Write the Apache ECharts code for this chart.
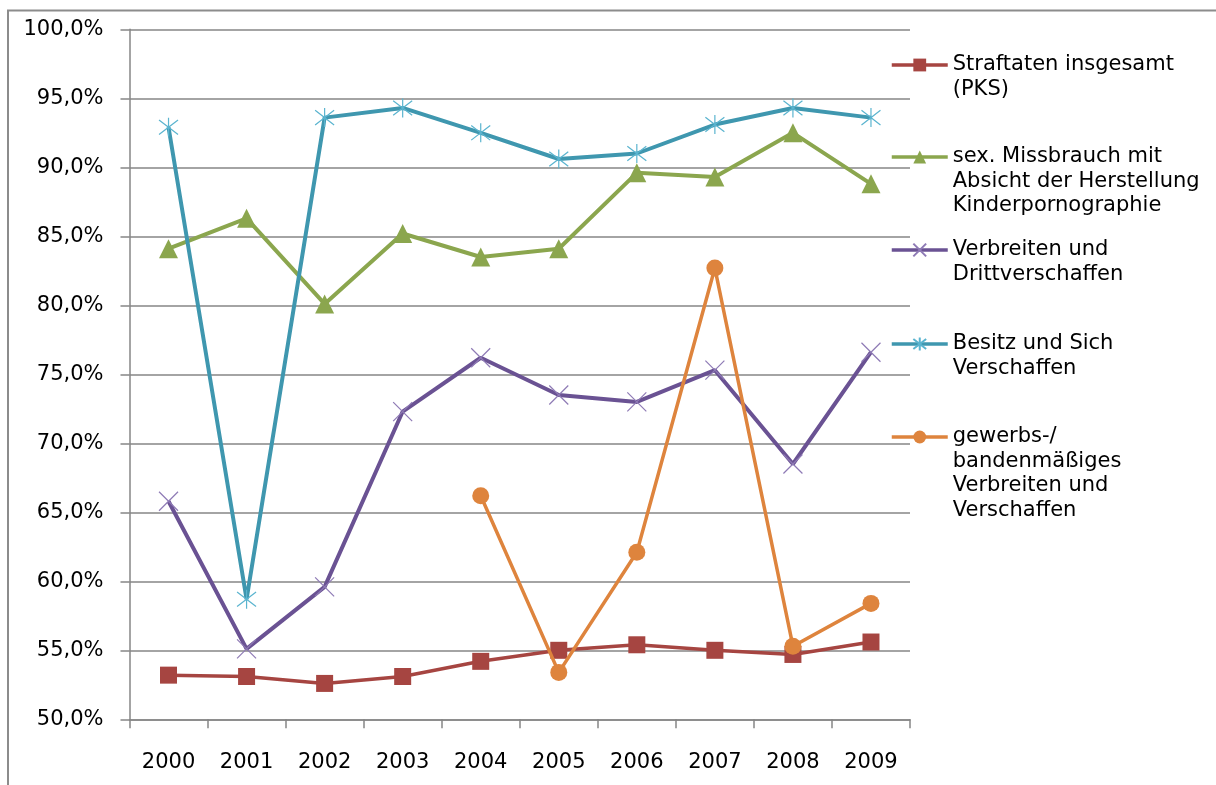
<!DOCTYPE html>
<html>
<head>
<meta charset="utf-8">
<script src="https://cdn.jsdelivr.net/npm/echarts@6/dist/echarts.min.js"></script>
<style>
html,body{margin:0;padding:0;background:#fff;}
#chart{width:1216px;height:785px;}
</style>
</head>
<body>
<div id="chart"></div>
<script>
const years = ['2000','2001','2002','2003','2004','2005','2006','2007','2008','2009'];
const straftaten = [53.2, 53.1, 52.6, 53.1, 54.2, 55.0, 55.4, 55.0, 54.7, 55.6];
const missbrauch = [84.1, 86.3, 80.1, 85.2, 83.5, 84.1, 89.6, 89.3, 92.5, 88.8];
const verbreiten = [65.8, 55.1, 59.6, 72.3, 76.2, 73.5, 73.0, 75.3, 68.5, 76.6];
const besitz = [92.9, 58.7, 93.6, 94.3, 92.5, 90.6, 91.0, 93.1, 94.3, 93.6];
const gewerbs = [null, null, null, null, 66.2, 53.4, 62.1, 82.7, 55.3, 58.4];
const seriesNames = [
  'Straftaten insgesamt\n(PKS)',
  'sex. Missbrauch mit\nAbsicht der Herstellung\nKinderpornographie',
  'Verbreiten und\nDrittverschaffen',
  'Besitz und Sich\nVerschaffen',
  'gewerbs-/\nbandenmäßiges\nVerbreiten und\nVerschaffen'
];
const yMin = 50, yMax = 100, yStep = 5;

const FONT = 'DejaVu Sans';
const LH = 24.5;
const colors = ['#A64541', '#8BA64E', '#6A5293', '#3F97AF', '#DE843D'];
const markerBorder = ['#A64541', '#8BA64E', '#8E7AB5', '#5AB4CF', '#DE843D'];
const symbols = ['rect', 'triangle', 'path://M0,0L10,10M10,0L0,10', 'path://M0,0L10,10M10,0L0,10M5,-1.5L5,11.5', 'circle'];
const symbolSizes = [17, 19, 19, 19, 17];
const lineWidths = [3.5, 4, 4, 4, 3.5];
const dataSets = [straftaten, missbrauch, verbreiten, besitz, gewerbs];
const legendCenters = [65, 157, 250, 344, 437];

const series = dataSets.map((d, i) => ({
  name: seriesNames[i],
  type: 'line',
  data: d,
  symbol: symbols[i],
  symbolSize: symbolSizes[i],
  showAllSymbol: true,
  lineStyle: { color: colors[i], width: lineWidths[i] },
  itemStyle: {
    color: (i === 2 || i === 3) ? 'rgba(0,0,0,0)' : colors[i],
    borderColor: markerBorder[i],
    borderWidth: (i === 2 || i === 3) ? 1.2 : 0
  },
  emphasis: { disabled: true },
  z: 2 + i
}));

const legends = seriesNames.map((name, i) => {
  const n = name.split('\n').length;
  return {
    left: 890,
    top: legendCenters[i] - (2 * n - 1) * LH / 2,
    padding: 0,
    itemWidth: 56,
    itemHeight: 16,
    itemGap: 0,
    selectedMode: false,
    lineStyle: { width: 3.5 },
    formatter: nm => '\n'.repeat(n - 1) + nm,
    textStyle: { fontFamily: FONT, fontSize: 21, color: '#000', lineHeight: LH },
    data: [name]
  };
});

const chart = echarts.init(document.getElementById('chart'), null, { renderer: 'canvas' });
chart.setOption({
  animation: false,
  backgroundColor: '#fff',
  graphic: [{
    type: 'rect',
    shape: { x: 8, y: 10.5, width: 1400, height: 1000 },
    style: { fill: 'none', stroke: '#8C8C8C', lineWidth: 2 },
    silent: true
  }],
  legend: legends,
  grid: { left: 129.5, right: 306, top: 29.3, bottom: 65.7, containLabel: false },
  xAxis: {
    type: 'category',
    data: years,
    boundaryGap: true,
    axisLine: { lineStyle: { color: '#868686', width: 1.5 } },
    axisTick: { show: true, length: 9, interval: 0, lineStyle: { color: '#868686', width: 1.5 } },
    axisLabel: { fontFamily: FONT, fontSize: 21, color: '#000', margin: 33 },
    splitLine: { show: false }
  },
  yAxis: {
    type: 'value',
    min: yMin, max: yMax, interval: yStep,
    axisLine: { show: true, lineStyle: { color: '#868686', width: 1.5 } },
    axisTick: { show: true, length: 9, lineStyle: { color: '#868686', width: 1.5 } },
    axisLabel: {
      fontFamily: FONT, fontSize: 21, color: '#000', margin: 26,
      formatter: v => v.toFixed(1).replace('.', ',') + '%'
    },
    splitLine: { lineStyle: { color: '#868686', width: 1.5 } }
  },
  series: series
});
</script>
</body>
</html>
